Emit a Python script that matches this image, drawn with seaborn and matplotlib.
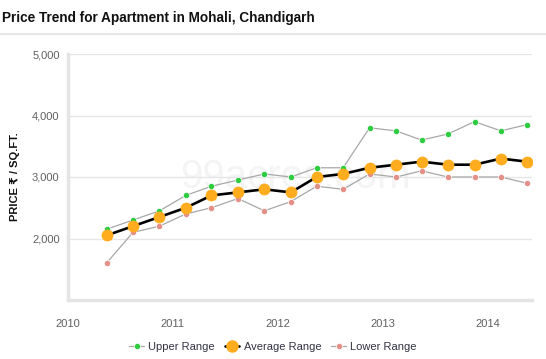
import matplotlib
matplotlib.use('Agg')
import matplotlib.pyplot as plt
import matplotlib.dates as mdates
from matplotlib.lines import Line2D
from matplotlib.ticker import FuncFormatter
import seaborn as sns
import pandas as pd

# quarterly price points (Rs / sq.ft.)
dates = ['2010-05-15', '2010-08-15', '2010-11-15', '2011-02-15', '2011-05-15', '2011-08-15',
         '2011-11-15', '2012-02-15', '2012-05-15', '2012-08-15', '2012-11-15', '2013-02-15',
         '2013-05-15', '2013-08-15', '2013-11-15', '2014-02-15', '2014-05-15']
upper = [2150, 2300, 2450, 2700, 2850, 2950, 3050, 3000, 3150, 3150,
         3800, 3750, 3600, 3700, 3900, 3750, 3850]
average = [2050, 2200, 2350, 2500, 2700, 2750, 2800, 2750, 3000, 3050,
           3150, 3200, 3250, 3200, 3200, 3300, 3250]
lower = [1600, 2100, 2200, 2400, 2500, 2650, 2450, 2600, 2850, 2800,
         3050, 3000, 3100, 3000, 3000, 3000, 2900]
yticks = [2000, 3000, 4000, 5000]

df = pd.DataFrame({'date': pd.to_datetime(dates), 'upper': upper,
                   'average': average, 'lower': lower})

sns.set_style('white')
plt.rcParams['font.family'] = ['Liberation Sans', 'DejaVu Sans']

green = '#2ecc40'
orange = '#ffad1f'
pink = '#e39088'

fig = plt.figure(figsize=(5.46, 3.59), dpi=100)
ax = fig.add_axes([68 / 546, 1 - 300 / 359, 464 / 546, 246 / 359])

# watermark
ax.text(0.49, 0.5, '99acres.com', transform=ax.transAxes, ha='center', va='center',
        fontsize=29, color='#f4f4f4', zorder=0)

sns.lineplot(data=df, x='date', y='upper', ax=ax, color='#a8a8a8', lw=0.9,
             marker='o', markersize=4.5, markerfacecolor=green,
             markeredgecolor='white', markeredgewidth=0.5, zorder=3)
sns.lineplot(data=df, x='date', y='lower', ax=ax, color='#a8a8a8', lw=0.9,
             marker='o', markersize=4.5, markerfacecolor=pink,
             markeredgecolor='white', markeredgewidth=0.5, zorder=3)
sns.lineplot(data=df, x='date', y='average', ax=ax, color='black', lw=1.9,
             marker='o', markersize=8, markerfacecolor=orange,
             markeredgecolor=orange, markeredgewidth=0.5, zorder=4)

ax.set_ylim(1000, 5000)
ax.set_xlim(pd.Timestamp('2010-01-01'), pd.Timestamp('2014-06-03'))
ax.set_yticks(yticks)
ax.yaxis.set_major_formatter(FuncFormatter(lambda v, p: f'{int(v):,}'))
ax.grid(axis='y', color='#e6e6e6', lw=1)
ax.grid(axis='x', visible=False)

ax.xaxis.set_major_locator(mdates.YearLocator())
ax.xaxis.set_major_formatter(mdates.DateFormatter('%Y'))
ax.xaxis.set_minor_locator(mdates.MonthLocator(bymonth=[4, 7, 10]))

ax.tick_params(axis='y', length=0, pad=6, labelsize=8, labelcolor='#606060')
ax.tick_params(axis='x', which='major', length=8, width=1, color='#ccd6eb',
               pad=6, labelsize=8, labelcolor='#606060', direction='out')
ax.tick_params(axis='x', which='minor', length=5, width=1, color='#707070',
               direction='out')

for side in ['top', 'right']:
    ax.spines[side].set_visible(False)
for side in ['left', 'bottom']:
    ax.spines[side].set_color('#e4e4e4')
    ax.spines[side].set_linewidth(2.5)

ax.set_xlabel('')
ax.set_ylabel('PRICE \u20b9 / SQ.FT.', fontsize=8, fontweight='bold', color='#111111')
ax.yaxis.set_label_coords(-0.103, 0.5)

fig.text(2 / 546, 1 - 18 / 359, 'Price Trend for Apartment in Mohali, Chandigarh',
         fontsize=9.8, fontweight='bold', color='#111111', va='center', ha='left')
fig.add_artist(Line2D([0, 1], [1 - 34 / 359, 1 - 34 / 359], color='#e6e6e6', lw=1.5,
                      transform=fig.transFigure))

handles = [
    Line2D([], [], color='#a8a8a8', lw=0.9, marker='o', markersize=4.5,
           markerfacecolor=green, markeredgecolor='white', markeredgewidth=0.5),
    Line2D([], [], color='black', lw=1.9, marker='o', markersize=8,
           markerfacecolor=orange, markeredgecolor=orange),
    Line2D([], [], color='#a8a8a8', lw=0.9, marker='o', markersize=4.5,
           markerfacecolor=pink, markeredgecolor='white', markeredgewidth=0.5),
]
fig.legend(handles, ['Upper Range', 'Average Range', 'Lower Range'], loc='center',
           bbox_to_anchor=(0.5, 1 - 347 / 359), ncol=3, frameon=False, fontsize=8,
           handlelength=1.3, handletextpad=0.4, columnspacing=0.9, labelcolor='#333344')

fig.savefig('out.png', dpi=100)
